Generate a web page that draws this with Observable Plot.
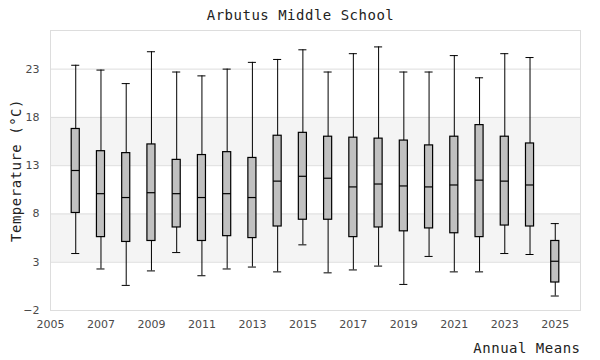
<!DOCTYPE html>
<html>
<head>
<meta charset="utf-8">
<script src="https://cdn.jsdelivr.net/npm/d3@7"></script>
<script src="https://cdn.jsdelivr.net/npm/@observablehq/plot@0.6"></script>
<style>
  html, body { margin: 0; padding: 0; background: #fff; }
</style>
</head>
<body>
<div id="chart"></div>
<script>
const years       = [2006, 2007, 2008, 2009, 2010, 2011, 2012, 2013, 2014, 2015, 2016, 2017, 2018, 2019, 2020, 2021, 2022, 2023, 2024, 2025];
const whiskerHigh = [23.4, 22.9, 21.5, 24.8, 22.7, 22.3, 23.0, 23.7, 24.0, 25.0, 22.7, 24.6, 25.3, 22.7, 22.7, 24.4, 22.1, 24.6, 24.2, 7.0];
const q3          = [16.8, 14.5, 14.3, 15.2, 13.6, 14.1, 14.4, 13.8, 16.1, 16.4, 16.0, 15.9, 15.8, 15.6, 15.1, 16.0, 17.2, 16.0, 15.3, 5.2];
const median      = [12.5, 10.1,  9.7, 10.2, 10.1,  9.7, 10.1,  9.7, 11.4, 11.9, 11.7, 10.8, 11.1, 10.9, 10.8, 11.0, 11.5, 11.4, 11.0, 3.1];
const q1          = [ 8.1,  5.6,  5.1,  5.2,  6.6,  5.2,  5.7,  5.5,  6.7,  7.4,  7.4,  5.6,  6.6,  6.2,  6.5,  6.0,  5.6,  6.8,  6.7, 0.9];
const whiskerLow  = [ 3.9,  2.3,  0.6,  2.1,  4.0,  1.6,  2.3,  2.5,  2.0,  4.8,  1.9,  2.2,  2.6,  0.7,  3.6,  2.0,  2.0,  3.9,  3.8, -0.5];

const xTicks = [2005, 2007, 2009, 2011, 2013, 2015, 2017, 2019, 2021, 2023, 2025];
const yTicks = [-2, 3, 8, 13, 18, 23];
const bandLow  = [3, 13];
const bandHigh = [8, 18];

const titleText = "Arbutus Middle School";
const xLabel = "Annual Means";
const yLabel = "Temperature (°C)";

const data = years.map((year, i) => ({
  year, hi: whiskerHigh[i], q3: q3[i], med: median[i], q1: q1[i], lo: whiskerLow[i]
}));
const bands = bandLow.map((y1, i) => ({y1, y2: bandHigh[i]}));

const half = 0.16; // half box width in years
const mono = "DejaVu Sans Mono";

const chart = Plot.plot({
  width: 600,
  height: 360,
  marginLeft: 50,
  marginRight: 20,
  marginTop: 30,
  marginBottom: 50,
  style: {fontFamily: "DejaVu Sans", fontSize: "11px", color: "#444", background: "#fff"},
  x: {domain: [2005, 2026], ticks: xTicks, tickFormat: d => String(d), label: null},
  y: {domain: [-2, 27], ticks: yTicks, label: null},
  marks: [
    Plot.rectY(bands, {y1: "y1", y2: "y2", fill: "#f4f4f4"}),
    Plot.gridY(yTicks, {stroke: "#dddddd", strokeOpacity: 1}),
    Plot.frame({stroke: "#dddddd"}),
    Plot.axisX({ticks: xTicks, tickSize: 0, tickPadding: 10, tickFormat: d => String(d), label: null, fill: "#4a4a4a"}),
    Plot.axisY({ticks: yTicks, tickSize: 0, tickPadding: 11, label: null, fill: "#4a4a4a"}),
    Plot.ruleX(data, {x: "year", y1: "lo", y2: "hi", stroke: "#000", strokeWidth: 1}),
    Plot.ruleY(data, {y: "hi", x1: d => d.year - half, x2: d => d.year + half, stroke: "#000", strokeWidth: 1}),
    Plot.ruleY(data, {y: "lo", x1: d => d.year - half, x2: d => d.year + half, stroke: "#000", strokeWidth: 1}),
    Plot.rect(data, {x1: d => d.year - half, x2: d => d.year + half, y1: "q1", y2: "q3", fill: "#c0c0c0", stroke: "#000", strokeWidth: 1.2}),
    Plot.ruleY(data, {y: "med", x1: d => d.year - half, x2: d => d.year + half, stroke: "#000", strokeWidth: 1.2}),
    Plot.text([titleText], {frameAnchor: "top", dx: -15, dy: -11, lineAnchor: "bottom", fontFamily: mono, fontSize: 14, fill: "#222"}),
    Plot.text([xLabel], {frameAnchor: "bottom-right", textAnchor: "end", lineAnchor: "bottom", dy: 42, fontFamily: mono, fontSize: 14, fill: "#222"}),
    Plot.text([yLabel], {frameAnchor: "left", rotate: -90, dx: -34, textAnchor: "middle", lineAnchor: "middle", fontFamily: mono, fontSize: 14, fill: "#222"})
  ]
});
d3.select(chart).selectAll(`g[font-family="${mono}"]`).style("letter-spacing", "0.5px");
document.getElementById("chart").appendChild(chart);
</script>
</body>
</html>
